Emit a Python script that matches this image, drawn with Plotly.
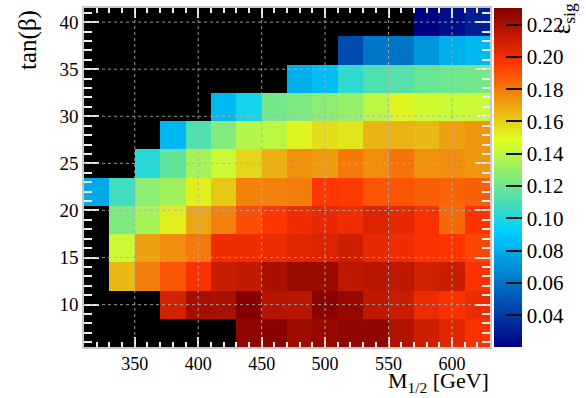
import plotly.graph_objects as go

# Bin centres of the scan grid
m_half = [320, 340, 360, 380, 400, 420, 440, 460, 480, 500, 520, 540, 560, 580, 600, 620]
tan_beta = [7, 10, 13, 16, 19, 22, 25, 28, 31, 34, 37, 40]

N = None
# Signal efficiency per tan(beta) row (lowest row first); None = no scan point
eff_tb07 = [N, N, N, N, N, N, 0.2263, 0.2280, 0.2222, 0.2249, 0.2263, 0.2260, 0.2180, 0.2101, 0.2048, 0.1980]
eff_tb10 = [N, N, N, 0.2088, 0.2209, 0.2195, 0.2295, 0.2169, 0.2155, 0.2280, 0.2249, 0.2142, 0.2115, 0.2021, 0.1980, 0.2021]
eff_tb13 = [N, 0.1650, 0.1790, 0.1887, 0.1980, 0.2115, 0.2128, 0.2195, 0.2236, 0.2236, 0.2142, 0.2155, 0.2142, 0.2088, 0.2115, 0.1980]
eff_tb16 = [N, 0.1430, 0.1710, 0.1756, 0.1804, 0.2007, 0.2007, 0.2021, 0.2048, 0.2061, 0.2101, 0.2034, 0.2007, 0.1980, 0.1967, 0.1920]
eff_tb19 = [N, 0.1236, 0.1340, 0.1520, 0.1697, 0.1780, 0.1900, 0.1960, 0.2007, 0.2034, 0.2007, 0.2061, 0.2034, 0.1980, 0.1840, 0.1967]
eff_tb22 = [0.0790, 0.1080, 0.1275, 0.1326, 0.1520, 0.1614, 0.1780, 0.1780, 0.1790, 0.1958, 0.1946, 0.1887, 0.1887, 0.1863, 0.1851, 0.1860]
eff_tb25 = [N, N, 0.1020, 0.1170, 0.1340, 0.1430, 0.1580, 0.1670, 0.1744, 0.1720, 0.1804, 0.1756, 0.1816, 0.1744, 0.1756, 0.1733]
eff_tb28 = [N, N, N, 0.0840, 0.1120, 0.1250, 0.1377, 0.1390, 0.1508, 0.1567, 0.1543, 0.1662, 0.1660, 0.1650, 0.1709, 0.1733]
eff_tb31 = [N, N, N, N, N, 0.0840, 0.0970, 0.1211, 0.1236, 0.1275, 0.1300, 0.1390, 0.1510, 0.1441, 0.1428, 0.1430]
eff_tb34 = [N, N, N, N, N, N, N, N, 0.0810, 0.0860, 0.1040, 0.1120, 0.1134, 0.1185, 0.1198, 0.1211]
eff_tb37 = [N, N, N, N, N, N, N, N, N, N, 0.0462, 0.0610, 0.0605, 0.0720, 0.0810, 0.0840]
eff_tb40 = [N, N, N, N, N, N, N, N, N, N, N, N, N, 0.0205, 0.0250, 0.0310]

eff = [eff_tb07, eff_tb10, eff_tb13, eff_tb16, eff_tb19, eff_tb22,
       eff_tb25, eff_tb28, eff_tb31, eff_tb34, eff_tb37, eff_tb40]

x_ticks = [350, 400, 450, 500, 550, 600]
y_ticks = [10, 15, 20, 25, 30, 35, 40]
z_ticks = [0.04, 0.06, 0.08, 0.10, 0.12, 0.14, 0.16, 0.18, 0.20, 0.22]

palette = [
    [0.00, "rgb(0,0,130)"],
    [0.34, "rgb(0,207,255)"],
    [0.61, "rgb(222,255,31)"],
    [0.84, "rgb(255,51,0)"],
    [1.00, "rgb(130,0,0)"],
]

SERIF = "Liberation Serif"
TICK_C = "#eeeeee"

fig = go.Figure()
fig.add_trace(go.Heatmap(
    x=m_half, y=tan_beta, z=eff,
    colorscale=palette, zmin=0.0203, zmax=0.2303,
    hoverongaps=False,
    colorbar=dict(
        x=1.0098, xanchor="left", xref="paper",
        y=0.5, yanchor="middle", len=1.0, lenmode="fraction",
        thickness=28, thicknessmode="pixels",
        outlinewidth=0,
        tickmode="array", tickvals=z_ticks, ticktext=[f"{v:.2f}" for v in z_ticks],
        ticks="inside", ticklen=16, tickwidth=1.5, tickcolor="#111111",
        tickfont=dict(family=SERIF, size=21, color="black"),
        ypad=0, xpad=0,
    ),
))

# dotted grid drawn on top of the cells
for xv in x_ticks:
    fig.add_shape(type="line", xref="x", yref="paper", x0=xv, x1=xv, y0=0, y1=1,
                  layer="above", line=dict(color="rgba(175,175,175,0.85)", width=1, dash="dot"))
for yv in y_ticks:
    fig.add_shape(type="line", xref="paper", yref="y", x0=0, x1=1, y0=yv, y1=yv,
                  layer="above", line=dict(color="rgba(175,175,175,0.85)", width=1, dash="dot"))

axis_common = dict(
    showgrid=False, zeroline=False,
    showline=True, linecolor="#c8c8c8", linewidth=1.5, mirror="allticks",
    ticks="inside", tickcolor=TICK_C, tickwidth=1.5,
    tickfont=dict(family=SERIF, size=19, color="black"),
    layer="above traces",
)

fig.update_xaxes(
    range=[310, 630], tickmode="array", tickvals=x_ticks, ticklen=10,
    minor=dict(dtick=10, tick0=310, ticks="inside", ticklen=5, tickcolor=TICK_C, tickwidth=1.5),
    **axis_common,
)
fig.update_xaxes(tickfont=dict(family=SERIF, size=18, color="black"))
fig.update_yaxes(
    range=[5.5, 41.5], tickmode="array", tickvals=y_ticks, ticklen=15,
    minor=dict(dtick=1, tick0=5, ticks="inside", ticklen=8, tickcolor=TICK_C, tickwidth=1.5),
    **axis_common,
)

fig.add_annotation(
    text="M<sub>1/2</sub> [GeV]", xref="paper", yref="paper", x=1.0, y=0,
    xanchor="right", yanchor="bottom", yshift=-50, showarrow=False, borderpad=0,
    font=dict(family=SERIF, size=22, color="black"),
)
fig.add_annotation(
    text="tan(β)", xref="paper", yref="paper", x=-0.138, y=1.0,
    xanchor="center", yanchor="top", textangle=-90, showarrow=False,
    font=dict(family=SERIF, size=25, color="black"),
)
fig.add_annotation(
    text="ε<sub>sig</sub>", xref="paper", yref="paper", x=1.181, y=1.02,
    xanchor="center", yanchor="top", textangle=-90, showarrow=False,
    font=dict(family=SERIF, size=25, color="black"),
)

fig.update_layout(
    width=586, height=398,
    margin=dict(l=84, r=93, t=6, b=51),
    paper_bgcolor="white", plot_bgcolor="black",
    showlegend=False,
)

fig.write_html("out.html")
